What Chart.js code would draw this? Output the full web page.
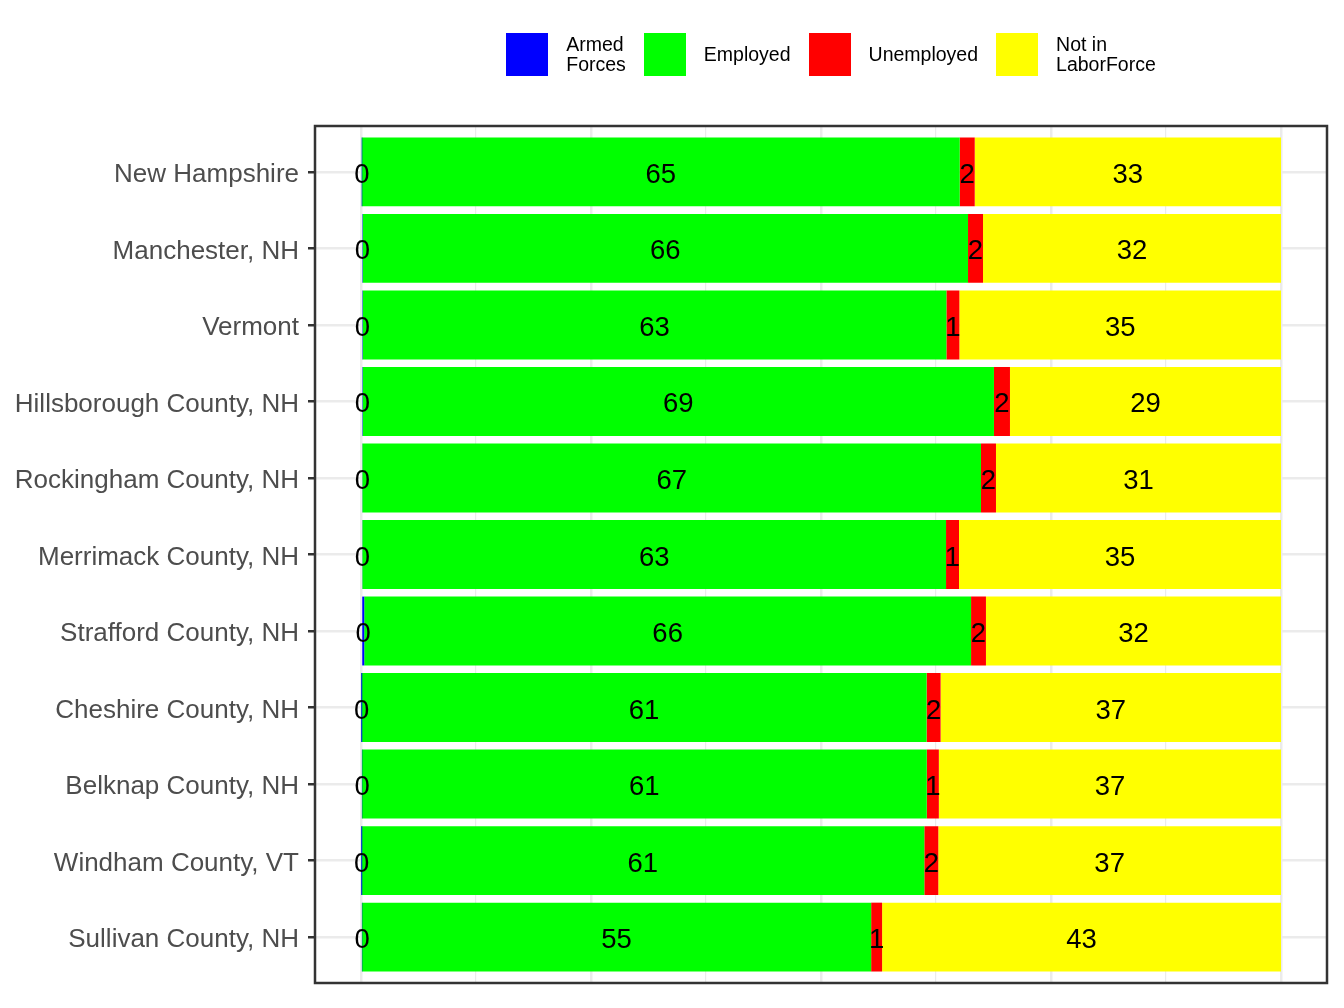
<!DOCTYPE html>
<html>
<head>
<meta charset="utf-8">
<script src="https://cdn.jsdelivr.net/npm/chart.js@4/dist/chart.umd.min.js"></script>
<style>
  body { margin: 0; background: #fff; font-family: 'Liberation Sans', Arial, sans-serif; }
  #wrap { position: relative; width: 1344px; height: 1008px; }
  #legend { position: absolute; top: 33px; left: 318px; width: 1026px; display: flex; justify-content: center; align-items: center; }
  .key { width: 42px; height: 43px; margin-right: 18px; flex: none; }
  .lab { font-size: 19.5px; line-height: 19.5px; color: #000; margin-right: 18px; white-space: nowrap; }
  .lab:last-child { margin-right: 0; }
</style>
</head>
<body>
<div id="wrap">
  <canvas id="laborChart" width="1344" height="1008"></canvas>
  <div id="legend"></div>
</div>
<script>
// Données (en %)
const categories = ['New Hampshire', 'Manchester, NH', 'Vermont', 'Hillsborough County, NH',
  'Rockingham County, NH', 'Merrimack County, NH', 'Strafford County, NH', 'Cheshire County, NH',
  'Belknap County, NH', 'Windham County, VT', 'Sullivan County, NH'];
const armedForces = [0.08, 0.18, 0.18, 0.18, 0.15, 0.15, 0.35, 0.03, 0.1, 0.03, 0.1];
const employed = [65.0, 65.8, 63.45, 68.62, 67.24, 63.44, 65.96, 61.45, 61.4, 61.2, 55.35];
const unemployed = [1.63, 1.63, 1.41, 1.74, 1.63, 1.41, 1.62, 1.52, 1.31, 1.52, 1.19];
const notInLaborForce = [33.29, 32.39, 34.96, 29.46, 30.98, 35.0, 32.07, 37.0, 37.19, 37.25, 43.36];

const seriesNames = ['Armed Forces', 'Employed', 'Unemployed', 'Not in LaborForce'];
const legendLines = [['Armed', 'Forces'], ['Employed'], ['Unemployed'], ['Not in', 'LaborForce']];
const seriesValues = [armedForces, employed, unemployed, notInLaborForce];
const seriesColors = ['#0000FF', '#00FF00', '#FF0000', '#FFFF00'];

// Légende HTML
const legendEl = document.getElementById('legend');
legendLines.forEach((lines, i) => {
    const key = document.createElement('div');
    key.className = 'key';
    key.style.background = seriesColors[i];
    legendEl.appendChild(key);
    const lab = document.createElement('div');
    lab.className = 'lab';
    lab.innerHTML = lines.join('<br>');
    legendEl.appendChild(lab);
});

Chart.defaults.font.family = "'Liberation Sans', Arial, sans-serif";

// Étiquettes au centre de chaque segment
const barLabels = {
    id: 'barLabels',
    afterDatasetsDraw(chart) {
        const c = chart.ctx;
        c.save();
        c.font = "27.5px 'Liberation Sans', Arial, sans-serif";
        c.fillStyle = '#000';
        c.textAlign = 'center';
        c.textBaseline = 'alphabetic';
        chart.data.datasets.forEach((ds, i) => {
            chart.getDatasetMeta(i).data.forEach((bar, j) => {
                c.fillText(Math.round(ds.data[j].x), (bar.x + bar.base) / 2, bar.y + 11);
            });
        });
        c.restore();
    }
};

// Cadre du panneau
const panelBorder = {
    id: 'panelBorder',
    afterDraw(chart) {
        const a = chart.chartArea;
        const c = chart.ctx;
        c.save();
        c.strokeStyle = '#333333';
        c.lineWidth = 2.5;
        c.strokeRect(a.left, a.top, a.right - a.left, a.bottom - a.top);
        c.restore();
    }
};

const ctx = document.getElementById('laborChart').getContext('2d');
new Chart(ctx, {
    type: 'bar',
    data: {
        datasets: seriesNames.map((name, i) => ({
            label: name,
            data: seriesValues[i].map((v, j) => ({ x: v, y: j })),
            backgroundColor: seriesColors[i],
            borderWidth: 0,
            stack: 'total',
            barPercentage: 0.9,
            categoryPercentage: 1
        }))
    },
    options: {
        indexAxis: 'y',
        responsive: false,
        animation: false,
        layout: { padding: { top: 126, right: 17, bottom: 25, left: 0 } },
        plugins: { legend: { display: false }, tooltip: { enabled: false } },
        scales: {
            x: {
                type: 'linear',
                stacked: true,
                min: -5,
                max: 105,
                ticks: { display: false, stepSize: 12.5, includeBounds: false, maxTicksLimit: 20 },
                grid: {
                    color: '#EBEBEB',
                    lineWidth: (c) => (c.tick && c.tick.value % 25 === 0 ? 2.5 : 1.2),
                    drawTicks: false
                },
                border: { display: false },
                afterFit: (s) => { s.height = 0; }
            },
            y: {
                type: 'linear',
                stacked: true,
                reverse: true,
                offset: false,
                min: -0.6,
                max: 10.6,
                ticks: {
                    stepSize: 1,
                    includeBounds: false,
                    autoSkip: false,
                    maxTicksLimit: 20,
                    padding: 9,
                    labelOffset: 3,
                    color: '#4D4D4D',
                    font: { size: 26 },
                    callback: (v) => categories[v] ?? ''
                },
                grid: {
                    offset: false,
                    color: '#EBEBEB',
                    lineWidth: 2.5,
                    tickColor: '#333333',
                    tickLength: 7,
                    tickWidth: 2.5
                },
                border: { display: false },
                afterFit: (s) => { s.width = 315; }
            }
        }
    },
    plugins: [barLabels, panelBorder]
});
</script>
</body>
</html>
